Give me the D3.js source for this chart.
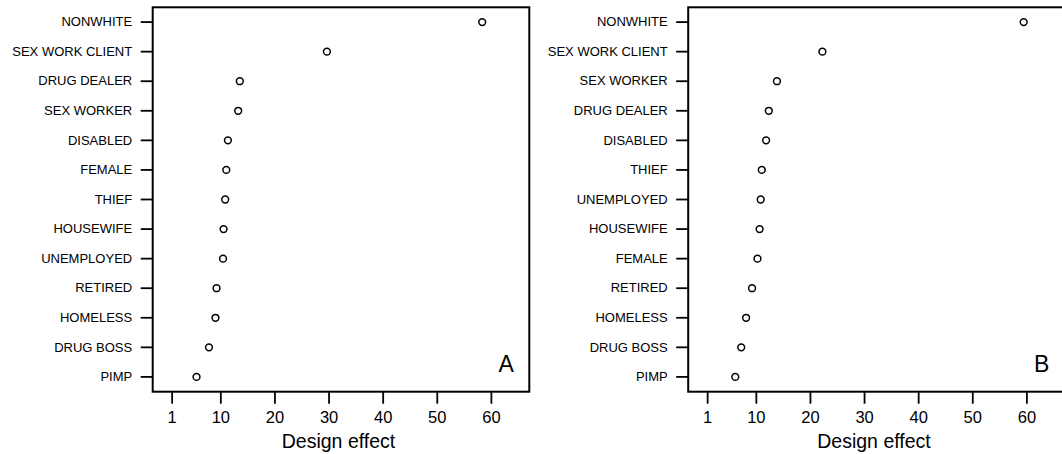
<!DOCTYPE html>
<html>
<head>
<meta charset="utf-8">
<script src="https://cdn.jsdelivr.net/npm/d3@7"></script>
<style>
  body { margin: 0; background: #fff; }
  svg text { font-family: "Liberation Sans", Arial, Helvetica, sans-serif; fill: #000; }
</style>
</head>
<body>
<svg id="chart" width="1062" height="454"></svg>
<script>
// panel A, top to bottom
var labelsA = ['NONWHITE', 'SEX WORK CLIENT', 'DRUG DEALER', 'SEX WORKER', 'DISABLED', 'FEMALE',
    'THIEF', 'HOUSEWIFE', 'UNEMPLOYED', 'RETIRED', 'HOMELESS', 'DRUG BOSS', 'PIMP'];
var valuesA = [58.4, 29.7, 13.6, 13.3, 11.4, 11.1, 10.9, 10.6, 10.5, 9.3, 9.1, 7.9, 5.6];

// panel B, top to bottom
var labelsB = ['NONWHITE', 'SEX WORK CLIENT', 'SEX WORKER', 'DRUG DEALER', 'DISABLED', 'THIEF',
    'UNEMPLOYED', 'HOUSEWIFE', 'FEMALE', 'RETIRED', 'HOMELESS', 'DRUG BOSS', 'PIMP'];
var valuesB = [59.5, 22.3, 13.9, 12.4, 11.9, 11.1, 10.9, 10.7, 10.3, 9.3, 8.2, 7.3, 6.2];

var xTicks = [1, 10, 20, 30, 40, 50, 60];
var panelLetters = ['A', 'B'];
var xTitle = 'Design effect';

var svg = d3.select('#chart');

// plot box of panel A (panel B is shifted right)
var boxL = 152.7, boxR = 529.3, boxT = 7.3, boxB = 391.7;
var panelShift = 535.5;

function drawPanel(labels, values, letter, i) {
    var g = svg.append('g')
        .attr('transform', 'translate(' + (i * panelShift) + ',0)');

    var x = d3.scaleLinear().domain([-2.5, 67.1]).range([boxL, boxR]);
    var y = d3.scaleBand().domain(labels).range([boxT, boxB]).padding(0);

    // y axis ticks + labels
    var yAxis = g.append('g')
        .attr('transform', 'translate(' + boxL + ',0)')
        .call(d3.axisLeft(y).tickSize(12).tickPadding(8.5));
    yAxis.select('.domain').remove();
    yAxis.selectAll('line').style('stroke', '#000').style('stroke-width', 1.8);
    yAxis.selectAll('text').style('font-size', '13px').attr('fill', '#000');

    // x axis ticks + labels
    var xAxis = g.append('g')
        .attr('transform', 'translate(0,' + boxB + ')')
        .call(d3.axisBottom(x).tickValues(xTicks).tickSize(12).tickPadding(8));
    xAxis.select('.domain').remove();
    xAxis.selectAll('line').style('stroke', '#000').style('stroke-width', 1.8);
    xAxis.selectAll('text').style('font-size', '16.5px').attr('fill', '#000');

    // box
    g.append('rect')
        .attr('x', boxL)
        .attr('y', boxT)
        .attr('width', boxR - boxL)
        .attr('height', boxB - boxT)
        .style('fill', 'none')
        .style('stroke', '#000')
        .style('stroke-width', 2);

    // points
    g.selectAll('circle.pt')
        .data(values)
        .enter()
        .append('circle')
        .attr('class', 'pt')
        .attr('cx', function(d) { return x(d); })
        .attr('cy', function(d, j) { return y(labels[j]) + y.bandwidth() / 2; })
        .attr('r', 3.4)
        .style('fill', 'none')
        .style('stroke', '#000')
        .style('stroke-width', 1.5);

    // panel letter
    g.append('text')
        .attr('x', boxR - 15.5)
        .attr('y', 372)
        .attr('text-anchor', 'end')
        .style('font-size', '23px')
        .text(letter);

    // axis title
    g.append('text')
        .attr('x', (boxL + boxR) / 2 - 2.5)
        .attr('y', 447.7)
        .attr('text-anchor', 'middle')
        .style('font-size', '19.5px')
        .text(xTitle);
}

drawPanel(labelsA, valuesA, panelLetters[0], 0);
drawPanel(labelsB, valuesB, panelLetters[1], 1);
</script>
</body>
</html>
